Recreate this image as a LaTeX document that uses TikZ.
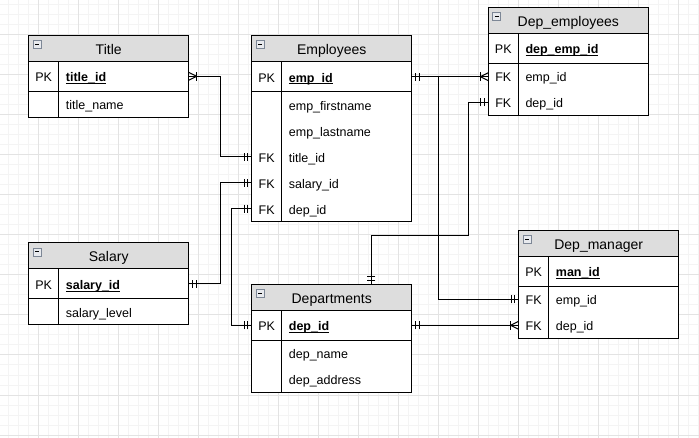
\documentclass[tikz,border=0pt]{standalone}
\usepackage{fontspec}
\setmainfont{Liberation Sans}
\usetikzlibrary{decorations.markings}
\definecolor{hdr}{HTML}{DDDDDD}
\definecolor{gridmaj}{HTML}{E3E3E3}
\definecolor{gridmin}{HTML}{F4F4F4}
\definecolor{iconb}{HTML}{7D8796}
\definecolor{iconf}{HTML}{E8EAEE}
\newcommand{\ulpk}[1]{\setbox0\hbox{\bfseries #1}\rlap{\rule[-2.1pt]{\wd0}{0.9pt}}\box0}
\tikzset{
  ent/.style={draw=black, line width=1pt, fill=white, minimum width=160pt, anchor=north west, inner sep=0pt, outer sep=0pt},
  hdrbox/.style={draw=black, line width=1pt, fill=hdr, minimum width=160pt, minimum height=26pt, anchor=north west, inner sep=0pt, outer sep=0pt, font=\fontsize{14}{16}\selectfont, text height=11.5pt, text depth=0pt},
  rowspan/.style={minimum width=160pt, minimum height=20pt, anchor=west, inner sep=0pt, outer sep=0pt},
  keytxt/.style={font=\fontsize{12.5}{14}\selectfont, inner sep=0pt, text height=11pt, text depth=0pt},
  fldtxt/.style={font=\fontsize{12.5}{14}\selectfont, inner sep=0pt, anchor=west, text height=11pt, text depth=0pt},
  sepline/.style={draw=black, line width=1pt},
  iconbox/.style={draw=iconb, fill=iconf, line width=0.8pt},
  iconminus/.style={draw=black, line width=1pt},
  conn/.style={draw=black, line width=1pt},
  gridminor/.style={draw=gridmin, line width=1pt},
  gridmajor/.style={draw=gridmaj, line width=1pt},
  endone/.style={postaction={decorate, decoration={markings,
     mark=at position -4pt with {\draw[line width=1pt] (0,-4pt) -- (0,4pt);},
     mark=at position -7.5pt with {\draw[line width=1pt] (0,-4pt) -- (0,4pt);}}}},
  startone/.style={postaction={decorate, decoration={markings,
     mark=at position 4pt with {\draw[line width=1pt] (0,-4pt) -- (0,4pt);},
     mark=at position 7.5pt with {\draw[line width=1pt] (0,-4pt) -- (0,4pt);}}}},
  endmany/.style={postaction={decorate, decoration={markings,
     mark=at position -8pt with {\draw[line width=1pt] (0,-4.5pt) -- (0,4.5pt);
        \draw[line width=1pt] (8pt,4pt) -- (0,0) -- (8pt,-4pt);}}}},
  startmany/.style={postaction={decorate, decoration={markings,
     mark=at position 8pt with {\draw[line width=1pt] (0,-4.5pt) -- (0,4.5pt);
        \draw[line width=1pt] (-8pt,4pt) -- (0,0) -- (-8pt,-4pt);}}}},
}
% name, entity, y offset, key, field
\newcommand{\ERrow}[5]{%
  \node[rowspan] (#1) at ([yshift=-#3pt]#2.north west) {};
  \node[keytxt] at ([xshift=15pt]#1.west) {#4};
  \node[fldtxt] at ([xshift=37pt]#1.west) {#5};}
% name, header name, title, height, x, y
\newcommand{\ERbox}[6]{%
  \node[ent, minimum height=#4pt] (#1) at (#5,#6) {};
  \node[hdrbox] (#2) at (#1.north west) {#3};
  \draw[sepline] ([yshift=-56pt]#1.north west) -- ([yshift=-56pt]#1.north east);
  \draw[sepline] ([xshift=30pt,yshift=-26pt]#1.north west) -- ([xshift=30pt]#1.south west);
  \draw[iconbox] ([xshift=4.5pt,yshift=-5pt]#2.north west) rectangle ++(8,8);
  \draw[iconminus] ([xshift=6.5pt,yshift=-9pt]#2.north west) -- ++(4,0);}
\begin{document}
\begin{tikzpicture}[x=1pt,y=-1pt]
\useasboundingbox (0,0) rectangle (699,438);
\fill[white] (0,0) rectangle (699,438);
\foreach \x in {8.3,18.3,...,698.3} \draw[gridminor] (\x,0) -- (\x,438);
\foreach \y in {5,15,...,435} \draw[gridminor] (0,\y) -- (699,\y);
\foreach \x in {38.3,78.3,...,678.3} \draw[gridmajor] (\x,0) -- (\x,438);
\foreach \y in {35,75,...,435} \draw[gridmajor] (0,\y) -- (699,\y);

% Title
\ERbox{title}{titleh}{Title}{82}{28.7}{35.3}
\ERrow{tid}{title}{41}{PK}{\ulpk{title\_id}}
\ERrow{tname}{title}{69}{}{title\_name}

% Employees
\ERbox{emp}{emph}{Employees}{186}{251.7}{35.7}
\ERrow{eid}{emp}{41}{PK}{\ulpk{emp\_id}}
\ERrow{efirst}{emp}{69}{}{emp\_firstname}
\ERrow{elast}{emp}{95}{}{emp\_lastname}
\ERrow{etitle}{emp}{121}{FK}{title\_id}
\ERrow{esal}{emp}{147}{FK}{salary\_id}
\ERrow{edep}{emp}{173}{FK}{dep\_id}

% Dep_employees
\ERbox{demp}{demph}{Dep\_employees}{108}{488.3}{7.3}
\ERrow{deid}{demp}{41}{PK}{\ulpk{dep\_emp\_id}}
\ERrow{deemp}{demp}{69}{FK}{emp\_id}
\ERrow{dedep}{demp}{95}{FK}{dep\_id}

% Salary
\ERbox{sal}{salh}{Salary}{82}{28.7}{243}
\ERrow{sid}{sal}{41}{PK}{\ulpk{salary\_id}}
\ERrow{slevel}{sal}{69}{}{salary\_level}

% Departments
\ERbox{dept}{depth}{Departments}{108}{251.7}{284.3}
\ERrow{did}{dept}{41}{PK}{\ulpk{dep\_id}}
\ERrow{dname}{dept}{69}{}{dep\_name}
\ERrow{daddr}{dept}{95}{}{dep\_address}

% Dep_manager
\ERbox{man}{manh}{Dep\_manager}{108}{518.7}{230.3}
\ERrow{mid}{man}{41}{PK}{\ulpk{man\_id}}
\ERrow{memp}{man}{69}{FK}{emp\_id}
\ERrow{mdep}{man}{95}{FK}{dep\_id}

% connectors
\draw[conn, startmany, endone] (tid.east) -- ++(31.6,0) |- (etitle.west);
\draw[conn, startone, endone] (sid.east) -- ++(31.6,0) |- (esal.west);
\draw[conn, startone, endone] (edep.west) -- ++(-20.4,0) |- (did.west);
\draw[conn, startone, endmany] (eid.east) -- (eid.east -| deemp.west);
\draw[conn, startone, endone] (eid.east) -- ++(27,0) |- (memp.west);
\draw[conn, startone, endone] ([xshift=39.6pt]dept.north) |- ++(97,-49) |- (dedep.west);
\draw[conn, startone, endmany] (did.east) -- (mdep.west);
\end{tikzpicture}
\end{document}
